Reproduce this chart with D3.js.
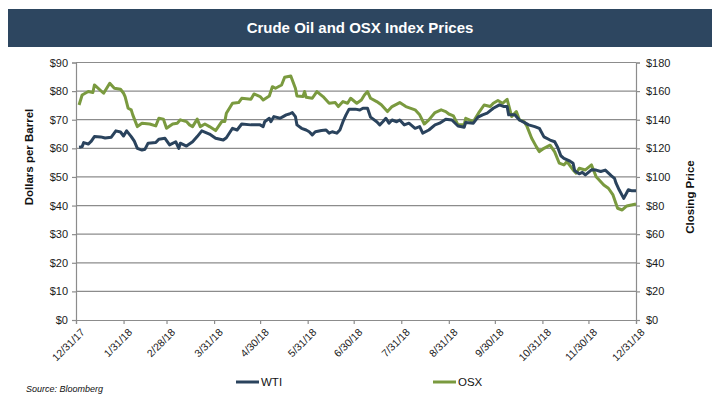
<!DOCTYPE html>
<html><head><meta charset="utf-8">
<script src="https://cdn.jsdelivr.net/npm/d3@7"></script>
<style>body{margin:0;background:#fff}svg{display:block;font-family:"Liberation Sans",Arial,sans-serif}</style>
</head><body><svg id="c" width="720" height="407"></svg>
<script>
const title = "Crude Oil and OSX Index Prices";
const xTickDates = ["2017-12-31","2018-01-31","2018-02-28","2018-03-31","2018-04-30","2018-05-31","2018-06-30","2018-07-31","2018-08-31","2018-09-30","2018-10-31","2018-11-30","2018-12-31"];
const leftTicks = [0,10,20,30,40,50,60,70,80,90];
const rightTicks = [0,20,40,60,80,100,120,140,160,180];

const wtiDates = ["01-02","01-04","01-05","01-08","01-10","01-12","01-16","01-19","01-23","01-26","01-29","01-31","02-02","02-05","02-07","02-09","02-12","02-14","02-16","02-21","02-23","02-27","03-02","03-06","03-08","03-09","03-13","03-17","03-20","03-23","03-28","04-01","04-06","04-08","04-12","04-15","04-18","04-24","04-30","05-02","05-03","05-06","05-07","05-09","05-13","05-15","05-17","05-19","05-21","05-23","05-24","05-27","05-30","06-01","06-03","06-05","06-09","06-12","06-14","06-16","06-19","06-21","06-23","06-25","06-27","07-01","07-04","07-06","07-09","07-11","07-15","07-17","07-19","07-21","07-23","07-25","07-28","07-30","08-02","08-05","08-09","08-12","08-14","08-18","08-22","08-25","08-29","09-02","09-06","09-10","09-11","09-16","09-19","09-22","09-25","09-29","10-03","10-06","10-08","10-09","10-13","10-16","10-20","10-22","10-26","10-29","11-01","11-05","11-08","11-10","11-12","11-14","11-18","11-20","11-21","11-24","11-26","11-28","12-02","12-05","12-08","12-11","12-15","12-17","12-18","12-20","12-23","12-26","12-28","12-31"];
const wtiValues = [60.4,60.6,62.0,61.5,62.5,64.1,64.0,63.6,63.9,66.1,65.7,64.3,66.1,64.1,62.5,60.0,59.4,59.7,61.8,62.0,63.2,63.5,61.2,62.3,60.0,61.8,60.8,62.3,64.1,66.1,65.0,63.5,62.9,63.7,67.0,66.4,68.5,68.2,68.2,67.6,69.3,70.5,69.3,71.1,70.5,71.1,71.7,72.0,72.5,71.1,68.2,67.0,66.4,65.8,64.7,65.8,66.2,66.4,65.3,65.8,65.3,66.4,69.3,71.7,73.7,73.7,73.4,74.0,74.0,70.9,69.3,68.2,69.3,70.5,68.8,69.9,69.3,69.9,68.2,68.8,67.0,67.6,65.3,66.4,68.2,68.8,70.2,69.9,67.8,67.4,69.0,68.8,70.9,71.7,72.3,74.0,75.2,74.6,74.6,71.7,71.7,69.9,68.8,68.2,67.6,67.0,64.0,62.9,62.3,60.3,57.4,56.5,55.5,54.8,52.2,51.1,51.6,50.7,52.5,52.4,51.9,52.4,50.4,49.5,47.8,45.5,42.5,45.5,45.2,45.2];

const osxDates = ["01-02","01-04","01-08","01-11","01-12","01-18","01-22","01-25","01-29","01-31","02-01","02-03","02-05","02-06","02-09","02-12","02-17","02-21","02-23","02-26","02-28","03-04","03-07","03-09","03-13","03-15","03-17","03-20","03-22","03-25","03-28","04-01","04-05","04-07","04-08","04-12","04-16","04-18","04-24","04-26","04-30","05-02","05-06","05-08","05-10","05-14","05-16","05-20","05-23","05-24","05-28","05-29","05-30","06-03","06-06","06-10","06-14","06-18","06-20","06-23","06-26","06-28","07-02","07-05","07-07","07-09","07-11","07-15","07-18","07-22","07-25","07-30","08-03","08-09","08-12","08-15","08-18","08-22","08-26","08-29","08-31","09-03","09-06","09-10","09-11","09-16","09-20","09-23","09-27","09-29","10-02","10-05","10-08","10-11","10-14","10-16","10-19","10-21","10-24","10-27","10-29","11-01","11-05","11-08","11-11","11-14","11-16","11-20","11-22","11-24","11-28","12-02","12-05","12-07","12-10","12-13","12-16","12-19","12-22","12-25","12-28","12-31"];
const osxValues = [150.3,157.3,159.7,159.0,164.3,158.5,165.5,162.0,161.3,158.5,156.2,148.0,146.9,143.4,135.2,137.5,137.0,135.7,141.0,140.4,134.0,137.0,137.5,139.9,138.7,136.4,135.2,140.4,135.2,137.0,135.2,132.4,138.7,138.7,144.5,151.5,152.0,155.0,154.3,158.0,156.2,153.8,156.6,163.1,162.0,164.3,169.7,170.6,162.0,156.6,156.2,159.7,155.7,155.0,159.7,156.2,151.5,152.0,149.2,152.7,151.5,155.0,151.5,153.8,157.3,159.7,155.0,152.7,150.4,145.7,149.2,152.0,149.2,146.9,143.4,137.0,139.9,145.0,146.9,145.7,144.0,142.7,136.4,136.4,141.0,138.7,145.7,150.3,149.2,151.5,153.4,151.5,154.3,142.2,145.7,139.9,138.7,135.2,127.0,121.2,117.7,120.0,122.2,117.5,109.6,108.4,110.7,104.9,102.6,106.1,104.9,108.4,100.2,97.9,94.4,92.1,87.4,78.1,76.9,79.7,80.4,81.1];

const parse = d3.timeParse("%Y-%m-%d");
const wti = wtiDates.map((d,i)=>({date:parse("2018-"+d), v:wtiValues[i]}));
const osx = osxDates.map((d,i)=>({date:parse("2018-"+d), v:osxValues[i]}));

const svg = d3.select("#c");
const L=76, R=636, T=62.5, B=320;
const x = d3.scaleTime().domain([parse("2017-12-31"), parse("2018-12-31")]).range([L,R]);
const yL = d3.scaleLinear().domain([0,90]).range([B,T]);
const yR = d3.scaleLinear().domain([0,180]).range([B,T]);

// title bar
svg.append("rect").attr("x",8).attr("y",9).attr("width",704).attr("height",38).attr("fill","#2d4660");
svg.append("text").attr("x",360).attr("y",33).attr("text-anchor","middle").attr("fill","#fff")
  .attr("font-size",15).attr("font-weight","bold").text(title);

// grid
svg.append("g").selectAll("line").data(leftTicks.filter(d=>d>0)).join("line")
  .attr("x1",L).attr("x2",R).attr("y1",d=>yL(d)).attr("y2",d=>yL(d))
  .attr("stroke","#8c8c8c").attr("stroke-width",1.2);

const gray="#8c8c8c";
// left axis
const la = svg.append("g").attr("transform",`translate(${L},0)`)
  .call(d3.axisLeft(yL).tickValues(leftTicks).tickSize(4).tickPadding(4).tickFormat(d=>"$"+d));
// right axis
const ra = svg.append("g").attr("transform",`translate(${R},0)`)
  .call(d3.axisRight(yR).tickValues(rightTicks).tickSize(4).tickPadding(6).tickFormat(d=>"$"+d));
// bottom axis
const ba = svg.append("g").attr("transform",`translate(0,${B})`)
  .call(d3.axisBottom(x).tickValues(xTickDates.map(parse)).tickSize(4).tickFormat(d3.timeFormat("%-m/%-d/%y")));
[la,ra,ba].forEach(g=>{
  g.select(".domain").attr("stroke",gray).attr("stroke-width",1.2);
  g.selectAll(".tick line").attr("stroke",gray).attr("stroke-width",1.2);
  g.selectAll("text").attr("fill","#1a1a1a").attr("font-family","Liberation Sans, Arial, sans-serif").attr("font-size",11);
});
ba.selectAll(".tick text").attr("font-size",10.5).attr("text-anchor","end")
  .attr("dy",0).attr("transform","translate(4,8) rotate(-45)");

// axis titles
svg.append("text").attr("transform","translate(33,157) rotate(-90)").attr("text-anchor","middle")
  .attr("font-size",11.5).attr("font-weight","bold").attr("fill","#111").text("Dollars per Barrel");
svg.append("text").attr("transform","translate(694,197) rotate(-90)").attr("text-anchor","middle")
  .attr("font-size",11.5).attr("font-weight","bold").attr("fill","#111").text("Closing Price");

// lines
const lineL = d3.line().x(d=>x(d.date)).y(d=>yL(d.v));
const lineR = d3.line().x(d=>x(d.date)).y(d=>yR(d.v));
svg.append("path").datum(osx).attr("d",lineR).attr("fill","none").attr("stroke","#7a9a3f").attr("stroke-width",3).attr("stroke-linejoin","round");
svg.append("path").datum(wti).attr("d",lineL).attr("fill","none").attr("stroke","#2a435d").attr("stroke-width",3).attr("stroke-linejoin","round");

// legend
const leg = [{name:"WTI",c:"#2a435d",x:236},{name:"OSX",c:"#7a9a3f",x:433}];
leg.forEach(l=>{
  svg.append("line").attr("x1",l.x).attr("x2",l.x+23).attr("y1",382).attr("y2",382).attr("stroke",l.c).attr("stroke-width",3);
  svg.append("text").attr("x",l.x+25).attr("y",386).attr("font-size",11.5).attr("fill","#111").text(l.name);
});
svg.append("text").attr("x",26).attr("y",392).attr("font-size",9).attr("font-style","italic").attr("fill","#111").text("Source: Bloomberg");
</script></body></html>
